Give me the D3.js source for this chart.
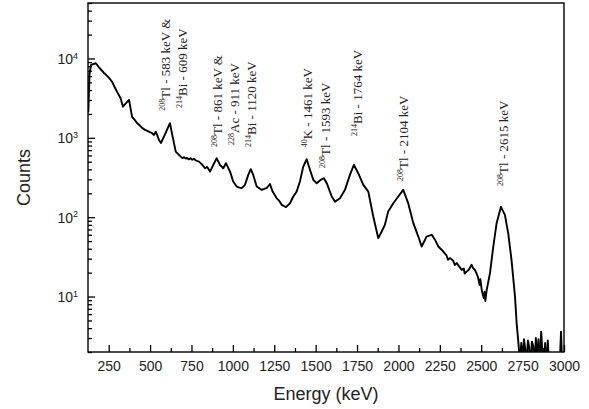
<!DOCTYPE html>
<html>
<head>
<meta charset="utf-8">
<script src="https://cdn.jsdelivr.net/npm/d3@7"></script>
<style>
  body { margin: 0; background: #ffffff; }
</style>
</head>
<body>
<div id="chart"></div>
<script>
// gamma spectrum, log counts vs energy
const energy = [127, 134, 143, 172, 190, 222, 245, 262, 270, 285, 300, 322, 336, 352, 373, 391, 421, 440, 451, 470,
  480, 493, 510, 524, 534, 554, 566, 594, 620, 634, 655, 685, 695, 705, 715, 723, 735, 745, 755, 765,
  775, 795, 810, 832, 845, 862, 882, 902, 922, 942, 958, 983, 1002, 1023, 1040, 1053, 1073, 1093, 1108, 1123,
  1144, 1174, 1190, 1204, 1224, 1240, 1265, 1280, 1295, 1321, 1345, 1365, 1385, 1405, 1425, 1446, 1466, 1486, 1506, 1530,
  1550, 1567, 1597, 1617, 1647, 1677, 1707, 1731, 1757, 1788, 1818, 1848, 1878, 1899, 1918, 1938, 1969, 1999, 2029, 2059,
  2090, 2120, 2140, 2170, 2201, 2221, 2241, 2271, 2290, 2300, 2311, 2330, 2340, 2352, 2382, 2395, 2400, 2412, 2425, 2442,
  2450, 2462, 2470, 2482, 2490, 2495, 2503, 2510, 2516, 2520, 2525, 2533, 2553, 2573, 2593, 2619, 2643, 2663, 2683, 2704,
  2714, 2724, 2734, 2742, 2750, 2758, 2766, 2774, 2782, 2790, 2798, 2806, 2814, 2822, 2830, 2838, 2846, 2854, 2862, 2870,
  2878, 2886, 2894, 2902, 2910, 2918, 2926, 2934, 2942, 2950, 2958, 2966, 2974, 2982, 2990];

const counts = [2100, 6200, 8300, 8700, 7800, 6560, 5900, 5360, 5100, 4400, 3820, 3155, 2470, 2700, 3000, 1850, 1540, 1420, 1333, 1260,
  1230, 1197, 1150, 1088, 1197, 941, 862, 1153, 1527, 1088, 670, 580, 555, 570, 548, 558, 535, 552, 530, 545,
  520, 501, 470, 414, 430, 375, 456, 553, 456, 414, 479, 375, 281, 243, 236, 232, 255, 341, 402, 341,
  243, 221, 228, 232, 262, 210, 173, 160, 143, 134, 150, 182, 210, 281, 434, 537, 394, 295, 268, 295,
  310, 268, 182, 157, 173, 221, 341, 456, 358, 255, 210, 102, 54.5, 66, 80, 118, 150, 182, 221, 150,
  84, 57, 42.7, 57, 60, 51.8, 42.7, 36.9, 33, 29, 30.5, 28.5, 25, 26.4, 21.7, 22.5, 19.5, 20.6, 21.8, 25.1,
  23, 21.7, 20, 17.1, 14, 16.5, 12.1, 10.5, 9.5, 11.5, 8.8, 12.1, 19.7, 42.7, 84, 135, 107, 62.8, 29, 10,
  4.6, 2.7, 1.5, 2.6, 1.3, 2.9, 2.2, 1.4, 2.8, 2.3, 1.2, 2.7, 2.4, 1.3, 3.0, 1.6, 2.9, 1.2, 3.6, 2.0,
  1.3, 2.6, 1.2, 2.8, 1.4, 1.2, 1.5, 1.2, 1.3, 1.2, 1.3, 1.2, 1.4, 3.6, 1.2];

const xMajor = [250, 500, 750, 1000, 1250, 1500, 1750, 2000, 2250, 2500, 2750, 3000];
const xMinor = [375, 625, 875, 1125, 1375, 1625, 1875, 2125, 2375, 2625, 2875];
const yMajor = [10, 100, 1000, 10000];

// peak labels: isotope mass, element, rest of text, anchor energy / counts
const labelMass = ["208", "214", "208", "228", "214", "40", "208", "214", "208", "208"];
const labelElem = ["Tl", "Bi", "Tl", "Ac", "Bi", "K", "Tl", "Bi", "Tl", "Tl"];
const labelRest = [" - 583 keV &", " - 609 keV", " - 861 keV &", " - 911 keV", " - 1120 keV",
  " - 1461 keV", " - 1593 keV", " - 1764 keV", " - 2104 keV", " - 2615 keV"];
const labelEnergy = [620, 723, 934, 1037, 1140, 1476, 1586, 1778, 2057, 2661];
const labelCounts = [2200, 2380, 767, 814, 767, 760, 418, 1057, 286, 248];

const width = 589;
const height = 409;
const margin = { top: 3, right: 25, bottom: 57, left: 88 };

const svg = d3.select("#chart")
    .append("svg")
    .attr("width", width)
    .attr("height", height)
    .style("background-color", "#ffffff");

const x = d3.scaleLinear()
    .domain([125, 3000])
    .range([margin.left, width - margin.right]);

const y = d3.scaleLog()
    .domain([2, 50000])
    .range([height - margin.bottom, margin.top]);

const sans = "'Liberation Sans', Arial, sans-serif";
const serif = "'Liberation Serif', 'Times New Roman', serif";

svg.append("clipPath")
    .attr("id", "plotClip")
    .append("rect")
    .attr("x", x.range()[0])
    .attr("y", y.range()[1])
    .attr("width", x.range()[1] - x.range()[0])
    .attr("height", y.range()[0] - y.range()[1]);

const data = energy.map((e, i) => ({ e, c: counts[i] }));

const line = d3.line()
    .x(d => x(d.e))
    .y(d => y(d.c));

svg.append("path")
    .datum(data)
    .attr("clip-path", "url(#plotClip)")
    .attr("fill", "none")
    .attr("stroke", "#000")
    .attr("stroke-width", 1.9)
    .attr("stroke-linejoin", "round")
    .attr("d", line);

// x axis
svg.append("g")
    .attr("transform", `translate(0,${y.range()[0]})`)
    .call(d3.axisBottom(x).tickValues(xMajor).tickSize(-7).tickPadding(9.5).tickFormat(d3.format("d")));

svg.append("g")
    .attr("transform", `translate(0,${y.range()[0]})`)
    .call(d3.axisBottom(x).tickValues(xMinor).tickSize(-4).tickFormat(""));

// y axis
let yMinor = [];
[1, 10, 100, 1000, 10000].forEach(dec => {
    for (let k = 2; k <= 9; k++) {
        const v = dec * k;
        if (v >= 2 && v <= 50000) yMinor.push(v);
    }
});

const yAxis = svg.append("g")
    .attr("transform", `translate(${x.range()[0]},0)`)
    .call(d3.axisLeft(y).tickValues(yMajor).tickSize(-7).tickPadding(10).tickFormat(""));

svg.append("g")
    .attr("transform", `translate(${x.range()[0]},0)`)
    .call(d3.axisLeft(y).tickValues(yMinor).tickSize(-4).tickFormat(""));

yAxis.selectAll(".tick text")
    .attr("dy", "0.36em")
    .each(function(d) {
        const t = d3.select(this);
        t.append("tspan").text("10");
        t.append("tspan")
            .attr("dy", "-0.6em")
            .style("font-size", "9px")
            .text(Math.round(Math.log10(d)));
    });

svg.selectAll(".domain").remove();
svg.selectAll(".tick line").attr("stroke", "#000").attr("stroke-width", 1.3);
svg.selectAll(".tick text")
    .attr("fill", "#222")
    .style("font-family", sans)
    .style("font-size", "14px");

// frame
svg.append("rect")
    .attr("x", x.range()[0])
    .attr("y", y.range()[1])
    .attr("width", x.range()[1] - x.range()[0])
    .attr("height", y.range()[0] - y.range()[1])
    .attr("fill", "none")
    .attr("stroke", "#000")
    .attr("stroke-width", 1.4);

// axis titles
svg.append("text")
    .attr("x", (x.range()[0] + x.range()[1]) / 2)
    .attr("y", 400)
    .attr("text-anchor", "middle")
    .attr("fill", "#222")
    .style("font-family", sans)
    .style("font-size", "18px")
    .text("Energy (keV)");

svg.append("text")
    .attr("transform", `translate(30,${(y.range()[0] + y.range()[1]) / 2}) rotate(-90)`)
    .attr("text-anchor", "middle")
    .attr("fill", "#222")
    .style("font-family", sans)
    .style("font-size", "18px")
    .text("Counts");

// peak labels
labelMass.forEach((m, i) => {
    const t = svg.append("text")
        .attr("transform", `translate(${x(labelEnergy[i])},${y(labelCounts[i])}) rotate(-90)`)
        .style("font-family", serif)
        .style("font-size", "13px")
        .attr("fill", "#222");
    t.append("tspan")
        .style("font-size", "8px")
        .attr("dy", "-5")
        .text(m);
    t.append("tspan")
        .attr("dy", "5")
        .text(labelElem[i] + labelRest[i]);
});
</script>
</body>
</html>
